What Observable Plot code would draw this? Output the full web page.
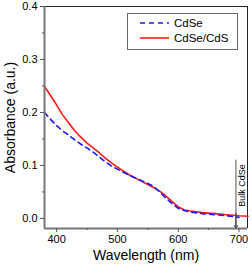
<!DOCTYPE html>
<html><head><meta charset="utf-8">
<script src="https://cdn.jsdelivr.net/npm/d3@7"></script>
<script src="https://cdn.jsdelivr.net/npm/@observablehq/plot@0.6"></script>
<style>
body{margin:0;background:#fff;font-family:Arial,"Liberation Sans",sans-serif;}
#wrap{position:relative;width:252px;height:265px;}
#legend{position:absolute;left:127px;top:13px;width:111px;height:37px;border:1px solid #666;background:#fff;box-sizing:border-box;font-size:11.5px;}
#legend div{position:absolute;left:12px;display:flex;align-items:center;}
#legend span{margin-left:4px;}
</style></head><body>
<div id="wrap"><div id="chart"></div><div id="legend"></div></div>
<script>
const wavelengthsCdSeCdS = [380,390,400,410,420,430,440,450,460,470,480,490,500,510,520,530,540,550,560,570,580,590,600,610,620,640,660,680,700,715];
const absCdSeCdS = [0.249,0.232,0.214,0.195,0.180,0.165,0.153,0.142,0.133,0.124,0.114,0.105,0.097,0.089,0.082,0.076,0.070,0.064,0.058,0.051,0.042,0.032,0.022,0.016,0.014,0.011,0.009,0.007,0.005,0.004];
const wavelengthsCdSe = [380,390,400,410,420,430,440,450,460,470,480,490,500,510,520,530,540,550,560,570,580,590,600,610,620,640,660,680,700];
const absCdSe = [0.200,0.187,0.175,0.165,0.157,0.148,0.140,0.133,0.125,0.116,0.107,0.099,0.093,0.087,0.081,0.076,0.071,0.066,0.060,0.050,0.038,0.028,0.019,0.015,0.012,0.009,0.007,0.005,0.002];
const seriesNames = ["CdSe","CdSe/CdS"];
const seriesColors = ["#1a1aff","#ff1a1a"];
const xTicks = [400,500,600,700];
const xMinor = [450,550,650];
const yTicks = [0.0,0.1,0.2,0.3,0.4];
const yMinor = [0.05,0.15,0.25,0.35];
const bulkWavelength = 695;
const bulkTop = 0.11;
const bulkLabel = "Bulk CdSe";
const bulkLabelY = 0.062;

const cdse = wavelengthsCdSe.map((w,i)=>({w, a:absCdSe[i]}));
const shell = wavelengthsCdSeCdS.map((w,i)=>({w, a:absCdSeCdS[i]}));
const xDom=[380,714], yDom=[-0.019,0.4];

const plot = Plot.plot({
  width:252, height:265,
  marginLeft:44, marginRight:5, marginTop:6, marginBottom:37,
  style:{fontFamily:"Arial, 'Liberation Sans', sans-serif", fontSize:"11px", color:"#000", background:"#fff"},
  x:{domain:xDom},
  y:{domain:yDom},
  marks:[
    Plot.ruleY([yDom[1]],{stroke:"#222",strokeWidth:1}),
    Plot.ruleX([xDom[1]],{stroke:"#222",strokeWidth:1}),
    Plot.line(shell,{x:"w",y:"a",stroke:seriesColors[1],strokeWidth:1.6}),
    Plot.line(cdse,{x:"w",y:"a",stroke:seriesColors[0],strokeWidth:1.6,strokeDasharray:"5,4"}),
    Plot.ruleX([bulkWavelength],{y1:bulkTop,y2:yDom[0],stroke:"#555",strokeWidth:1}),
    Plot.arrow([bulkWavelength],{x1:d=>d,x2:d=>d,y1:0.01,y2:yDom[0],stroke:"#333",headLength:5,strokeWidth:1}),
    Plot.text([bulkLabel],{x:bulkWavelength,y:bulkLabelY,text:d=>d,rotate:-90,dx:6,fontSize:9,fill:"#000"}),
    Plot.ruleX([xDom[0]],{stroke:"#777",strokeWidth:2}),
    Plot.ruleY([yDom[0]],{stroke:"#777",strokeWidth:2}),
    Plot.axisX({ticks:xTicks,tickSize:4,tickPadding:3,label:null,stroke:"#555",fontSize:11}),
    Plot.axisX({ticks:xMinor,tickSize:2,tickFormat:()=>"",label:null,stroke:"#555"}),
    Plot.axisX({ticks:[],label:"Wavelength (nm)",labelAnchor:"center",labelOffset:31,labelArrow:"none",fontSize:14}),
    Plot.axisY({ticks:yTicks,tickSize:4,tickPadding:3,tickFormat:d3.format(".1f"),label:null,stroke:"#555",fontSize:11}),
    Plot.axisY({ticks:yMinor,tickSize:2,tickFormat:()=>"",label:null,stroke:"#555"}),
    Plot.axisY({ticks:[],label:"Absorbance (a.u.)",labelAnchor:"center",labelOffset:39,labelArrow:"none",fontSize:14})
  ]
});
document.getElementById("chart").appendChild(plot);

const leg=document.getElementById("legend");
seriesNames.forEach((n,i)=>{
  const d=document.createElement("div");
  d.style.top=(i===0?3:18)+"px";
  d.innerHTML=`<svg width="30" height="12"><line x1="0" x2="29" y1="6" y2="6" stroke="${seriesColors[i]}" stroke-width="1.6" ${i===0?'stroke-dasharray="5,4"':''}/></svg><span>${n}</span>`;
  leg.appendChild(d);
});
</script></body></html>
